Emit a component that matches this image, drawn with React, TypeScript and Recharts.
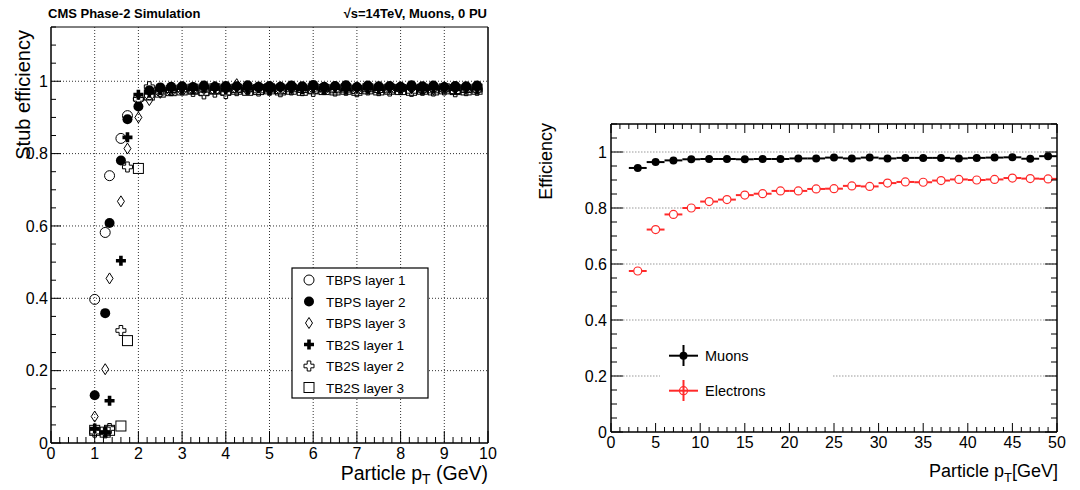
import { ScatterChart, Scatter, XAxis, YAxis, CartesianGrid, ErrorBar } from 'recharts'

const FONT = '"Liberation Sans", Arial, Helvetica, sans-serif'

// ---- left panel: stub efficiency per barrel layer vs particle pT (GeV)
const stubPt = [
  1.0, 1.24, 1.34, 1.6, 1.75, 2.0,
  2.25, 2.5, 2.75, 3.0, 3.25, 3.5, 3.75, 4.0, 4.25, 4.5, 4.75, 5.0, 5.25, 5.5, 5.75,
  6.0, 6.25, 6.5, 6.75, 7.0, 7.25, 7.5, 7.75, 8.0, 8.25, 8.5, 8.75, 9.0, 9.25, 9.5, 9.75,
]
const tbps1 = [
  0.397, 0.582, 0.739, 0.842, 0.905, 0.952,
  0.963, 0.972, 0.975, 0.978, 0.980, 0.982, 0.978, 0.983, 0.981, 0.979, 0.984, 0.982, 0.980, 0.985, 0.981,
  0.983, 0.979, 0.982, 0.986, 0.981, 0.984, 0.980, 0.983, 0.982, 0.985, 0.979, 0.983, 0.981, 0.984, 0.982, 0.980,
]
const tbps2 = [
  0.132, 0.359, 0.608, 0.781, 0.895, 0.930,
  0.975, 0.983, 0.985, 0.986, 0.984, 0.988, 0.985, 0.987, 0.986, 0.989, 0.984, 0.987, 0.985, 0.988, 0.986,
  0.990, 0.985, 0.987, 0.989, 0.984, 0.988, 0.986, 0.987, 0.985, 0.989, 0.986, 0.988, 0.984, 0.987, 0.986, 0.988,
]
const tbps3 = [
  0.073, 0.204, 0.455, 0.668, 0.814, 0.900,
  0.948, 0.968, 0.975, 0.979, 0.982, 0.978, 0.985, 0.981, 0.992, 0.980, 0.983, 0.979, 0.984, 0.981, 0.980,
  0.983, 0.978, 0.985, 0.980, 0.982, 0.979, 0.984, 0.981, 0.983, 0.980, 0.982, 0.978, 0.984, 0.981, 0.979, 0.983,
]
const tb2s1 = [
  0.040, 0.030, 0.117, 0.504, 0.845, 0.963,
  0.968, 0.976, 0.979, 0.981, 0.978, 0.983, 0.980, 0.977, 0.982, 0.979, 0.981, 0.976, 0.983, 0.980, 0.978,
  0.982, 0.979, 0.981, 0.977, 0.983, 0.980, 0.978, 0.982, 0.979, 0.981, 0.977, 0.980, 0.982, 0.978, 0.981, 0.979,
]
const tb2s2 = [
  0.030, 0.028, 0.040, 0.311, 0.763, 0.950,
  0.985, 0.978, 0.974, 0.976, 0.972, 0.965, 0.970, 0.966, 0.974, 0.977, 0.973, 0.975, 0.971, 0.976, 0.974,
  0.972, 0.977, 0.973, 0.975, 0.971, 0.976, 0.974, 0.973, 0.977, 0.972, 0.975, 0.973, 0.976, 0.971, 0.974, 0.975,
]
const tb2s3 = [
  0.035, 0.030, 0.035, 0.047, 0.283, 0.759,
  0.962, 0.970, 0.974, 0.976, 0.978, 0.975, 0.979, 0.976, 0.978, 0.975, 0.977, 0.979, 0.976, 0.978, 0.975,
  0.979, 0.977, 0.976, 0.978, 0.975, 0.979, 0.976, 0.978, 0.977, 0.975, 0.978, 0.976, 0.979, 0.977, 0.976, 0.978,
]
const stubLabels = ['TBPS layer 1', 'TBPS layer 2', 'TBPS layer 3', 'TB2S layer 1', 'TB2S layer 2', 'TB2S layer 3']
const stubXMajor = [0, 1, 2, 3, 4, 5, 6, 7, 8, 9, 10]
const stubYMajor = [0, 0.2, 0.4, 0.6, 0.8, 1]

// ---- right panel: efficiency vs particle pT, 2 GeV bins
const ptBins = [3, 5, 7, 9, 11, 13, 15, 17, 19, 21, 23, 25, 27, 29, 31, 33, 35, 37, 39, 41, 43, 45, 47, 49]
const binHalf = 1
const muonEff = [
  0.943, 0.964, 0.970, 0.974, 0.975, 0.975, 0.974, 0.975, 0.975, 0.977, 0.977, 0.980,
  0.977, 0.980, 0.977, 0.979, 0.979, 0.979, 0.977, 0.979, 0.980, 0.981, 0.976, 0.985,
]
const electronEff = [
  0.575, 0.723, 0.777, 0.800, 0.823, 0.830, 0.846, 0.851, 0.861, 0.861, 0.868, 0.869,
  0.879, 0.877, 0.889, 0.893, 0.892, 0.898, 0.902, 0.900, 0.902, 0.907, 0.905, 0.904,
]
const effXMajor = [0, 5, 10, 15, 20, 25, 30, 35, 40, 45, 50]
const effYMajor = [0, 0.2, 0.4, 0.6, 0.8, 1]

const steps = (a: number, b: number, s: number) => {
  const out: number[] = []
  for (let i = 0; a + i * s <= b + 1e-9; i++) out.push(Math.round((a + i * s) * 1000) / 1000)
  return out
}

const pts = (xs: number[], ys: number[]) => xs.map((x, i) => ({ x, y: ys[i] })).filter(p => p.y != null)

// ROOT-ish markers
const OpenCircle = (p: any) => <circle cx={p.cx} cy={p.cy} r={5} fill="none" stroke="#000" strokeWidth={1} />
const FullCircle = (p: any) => <circle cx={p.cx} cy={p.cy} r={5} fill="#000" />
const OpenDiamond = (p: any) => (
  <polygon
    points={`${p.cx},${p.cy - 5.5} ${p.cx + 3.5},${p.cy} ${p.cx},${p.cy + 5.5} ${p.cx - 3.5},${p.cy}`}
    fill="none" stroke="#000" strokeWidth={1}
  />
)
const crossPts = (cx: number, cy: number) => {
  const s = 5, a = 1.8
  return [
    [cx - a, cy - s], [cx + a, cy - s], [cx + a, cy - a], [cx + s, cy - a], [cx + s, cy + a], [cx + a, cy + a],
    [cx + a, cy + s], [cx - a, cy + s], [cx - a, cy + a], [cx - s, cy + a], [cx - s, cy - a], [cx - a, cy - a],
  ].map(q => q.join(',')).join(' ')
}
const FullCross = (p: any) => <polygon points={crossPts(p.cx, p.cy)} fill="#000" />
const OpenCross = (p: any) => <polygon points={crossPts(p.cx, p.cy)} fill="none" stroke="#000" strokeWidth={1} />
const OpenSquare = (p: any) => <rect x={p.cx - 5} y={p.cy - 5} width={10} height={10} fill="none" stroke="#000" strokeWidth={1} />

const stubShapes = [OpenCircle, FullCircle, OpenDiamond, FullCross, OpenCross, OpenSquare]
const stubSeries = [tbps1, tbps2, tbps3, tb2s1, tb2s2, tb2s3]

type Side = 'bottom' | 'left' | 'top' | 'right'
const tickMark = (side: Side, majors: number[], big: number, small: number, label: boolean, fs: number, off: number) =>
  (props: any) => {
    const { x, y, payload } = props
    const m = majors.find(v => Math.abs(v - payload.value) < 1e-6)
    const len = m != null ? big : small
    let ln = { x1: x, y1: y, x2: x, y2: y }
    if (side === 'bottom') ln.y2 = y - len
    if (side === 'top') ln.y2 = y + len
    if (side === 'left') ln.x2 = x + len
    if (side === 'right') ln.x2 = x - len
    return (
      <g>
        <line {...ln} stroke="#000" strokeWidth={1} />
        {label && m != null && (
          side === 'bottom'
            ? <text x={x} y={y + off} textAnchor="middle" fontSize={fs} fontFamily={FONT} fill="#000">{String(m)}</text>
            : <text x={x - off} y={y + fs * 0.36} textAnchor="end" fontSize={fs} fontFamily={FONT} fill="#000">{String(m)}</text>
        )}
      </g>
    )
  }

// axes are 1px wide/high (a 0-size axis is not drawn), margins are cut by 1 to compensate
function StubPanel() {
  const xt = steps(0, 10, 0.2)
  const yt = steps(0, 1.15, 0.05)
  return (
    <ScatterChart width={520} height={490} margin={{ top: 26, right: 31, bottom: 46, left: 50 }}>
      <CartesianGrid
        verticalValues={stubXMajor.slice(1, -1)}
        horizontalValues={stubYMajor.slice(1)}
        stroke="#333" strokeDasharray="1 2"
      />
      <XAxis dataKey="x" type="number" domain={[0, 10]} allowDataOverflow ticks={xt} interval={0}
        height={1} tickSize={0} tickMargin={0} tickLine={false} axisLine={{ stroke: '#000', strokeWidth: 1.5 }}
        tick={tickMark('bottom', stubXMajor, 12, 6, true, 16, 16)} />
      <XAxis xAxisId="top" orientation="top" dataKey="x" type="number" domain={[0, 10]} allowDataOverflow
        height={1} tick={false} tickLine={false} axisLine={{ stroke: '#000', strokeWidth: 1 }} />
      <YAxis dataKey="y" type="number" domain={[0, 1.15]} allowDataOverflow ticks={yt} interval={0}
        width={1} tickSize={0} tickMargin={0} tickLine={false} axisLine={{ stroke: '#000', strokeWidth: 1.5 }}
        tick={tickMark('left', stubYMajor, 10, 5, true, 16, 3)} />
      <YAxis yAxisId="right" orientation="right" dataKey="y" type="number" domain={[0, 1.15]} allowDataOverflow
        width={1} tick={false} tickLine={false} axisLine={{ stroke: '#000', strokeWidth: 1.5 }} />
      {stubSeries.map((ys, i) => (
        <Scatter key={stubLabels[i]} name={stubLabels[i]} data={pts(stubPt, ys)} shape={stubShapes[i]} isAnimationActive={false} />
      ))}
    </ScatterChart>
  )
}

function EffPanel() {
  const xt = steps(0, 50, 1)
  const yt = steps(0, 1.1, 0.05)
  const mu = ptBins.map((x, i) => ({ x, y: muonEff[i], ex: binHalf }))
  const el = ptBins.map((x, i) => ({ x, y: electronEff[i], ex: binHalf }))
  return (
    <ScatterChart width={560} height={490} margin={{ top: 123, right: 22, bottom: 57, left: 90 }}>
      <CartesianGrid vertical={false} horizontalValues={effYMajor.slice(1)} stroke="#999" strokeDasharray="1.5 1.5" />
      <XAxis dataKey="x" type="number" domain={[0, 50]} allowDataOverflow ticks={xt} interval={0}
        height={1} tickSize={0} tickMargin={0} tickLine={false} axisLine={{ stroke: '#000', strokeWidth: 1.5 }}
        tick={tickMark('bottom', effXMajor, 9, 5, true, 16, 16)} />
      <XAxis xAxisId="top" orientation="top" dataKey="x" type="number" domain={[0, 50]} allowDataOverflow ticks={xt} interval={0}
        height={1} tickSize={0} tickMargin={0} tickLine={false} axisLine={{ stroke: '#000', strokeWidth: 1.5 }}
        tick={tickMark('top', effXMajor, 9, 5, false, 16, 0)} />
      <YAxis dataKey="y" type="number" domain={[0, 1.1]} allowDataOverflow ticks={yt} interval={0}
        width={1} tickSize={0} tickMargin={0} tickLine={false} axisLine={{ stroke: '#000', strokeWidth: 1.5 }}
        tick={tickMark('left', effYMajor, 12, 6, true, 16, 4)} />
      <YAxis yAxisId="right" orientation="right" dataKey="y" type="number" domain={[0, 1.1]} allowDataOverflow ticks={yt} interval={0}
        width={1} tickSize={0} tickMargin={0} tickLine={false} axisLine={{ stroke: '#000', strokeWidth: 1.5 }}
        tick={tickMark('right', effYMajor, 12, 6, false, 16, 0)} />
      <Scatter name="Muons" data={mu} isAnimationActive={false}
        shape={(p: any) => <circle cx={p.cx} cy={p.cy} r={4} fill="#000" />}>
        <ErrorBar dataKey="ex" direction="x" width={0} stroke="#000" strokeWidth={2} />
      </Scatter>
      <Scatter name="Electrons" data={el} isAnimationActive={false}
        shape={(p: any) => <circle cx={p.cx} cy={p.cy} r={4} fill="#fff" stroke="#ff2a2a" strokeWidth={1.2} />}>
        <ErrorBar dataKey="ex" direction="x" width={0} stroke="#ff2a2a" strokeWidth={2} />
      </Scatter>
    </ScatterChart>
  )
}

export default function App() {
  const legY = [280, 301.5, 323, 344.5, 366, 387.5]
  return (
    <div style={{ position: 'absolute', left: 0, top: 0, width: 1080, height: 490, background: '#fff', fontFamily: FONT }}>
      <div style={{ position: 'absolute', left: 0, top: 0 }}><StubPanel /></div>
      <div style={{ position: 'absolute', left: 520, top: 0 }}><EffPanel /></div>
      <svg width={1080} height={490} style={{ position: 'absolute', left: 0, top: 0, pointerEvents: 'none' }} fontFamily={FONT}>
        <text x={48} y={18} fontSize={13} fontWeight="bold">CMS Phase-2 Simulation</text>
        <text x={487} y={18} fontSize={13} fontWeight="bold" textAnchor="end">√s=14TeV, Muons, 0 PU</text>
        <text transform="translate(30,30) rotate(-90)" textAnchor="end" fontSize={20}>Stub efficiency</text>
        <text x={488} y={480} textAnchor="end" fontSize={19.5}>
          Particle p<tspan fontSize={14} dy={4}>T</tspan><tspan dy={-4}> (GeV)</tspan>
        </text>

        <rect x={292} y={268} width={136} height={130} fill="#fff" stroke="#000" strokeWidth={1.2} />
        {stubLabels.map((s, i) => {
          const Shape = stubShapes[i]
          return (
            <g key={s}>
              <Shape cx={309} cy={legY[i]} />
              <text x={326} y={legY[i] + 5} fontSize={13.5}>{s}</text>
            </g>
          )
        })}

        <text transform="translate(552,123) rotate(-90)" textAnchor="end" fontSize={18}>Efficiency</text>
        <text x={1058} y={477} textAnchor="end" fontSize={18}>
          Particle p<tspan fontSize={13} dy={5}>T</tspan><tspan dy={-5}>[GeV]</tspan>
        </text>

        <rect x={660} y={337} width={172} height={72} fill="#fff" />
        <line x1={669} y1={355.7} x2={698} y2={355.7} stroke="#000" strokeWidth={2} />
        <line x1={683.5} y1={345} x2={683.5} y2={366} stroke="#000" strokeWidth={2} />
        <circle cx={683.5} cy={355.7} r={4} fill="#000" />
        <text x={705} y={361} fontSize={14.5}>Muons</text>
        <line x1={669} y1={390.7} x2={698} y2={390.7} stroke="#ff2a2a" strokeWidth={2} />
        <line x1={683.5} y1={380} x2={683.5} y2={401} stroke="#ff2a2a" strokeWidth={2} />
        <circle cx={683.5} cy={390.7} r={4} fill="none" stroke="#ff2a2a" strokeWidth={1.2} />
        <text x={705} y={396} fontSize={14.5}>Electrons</text>
      </svg>
    </div>
  )
}
